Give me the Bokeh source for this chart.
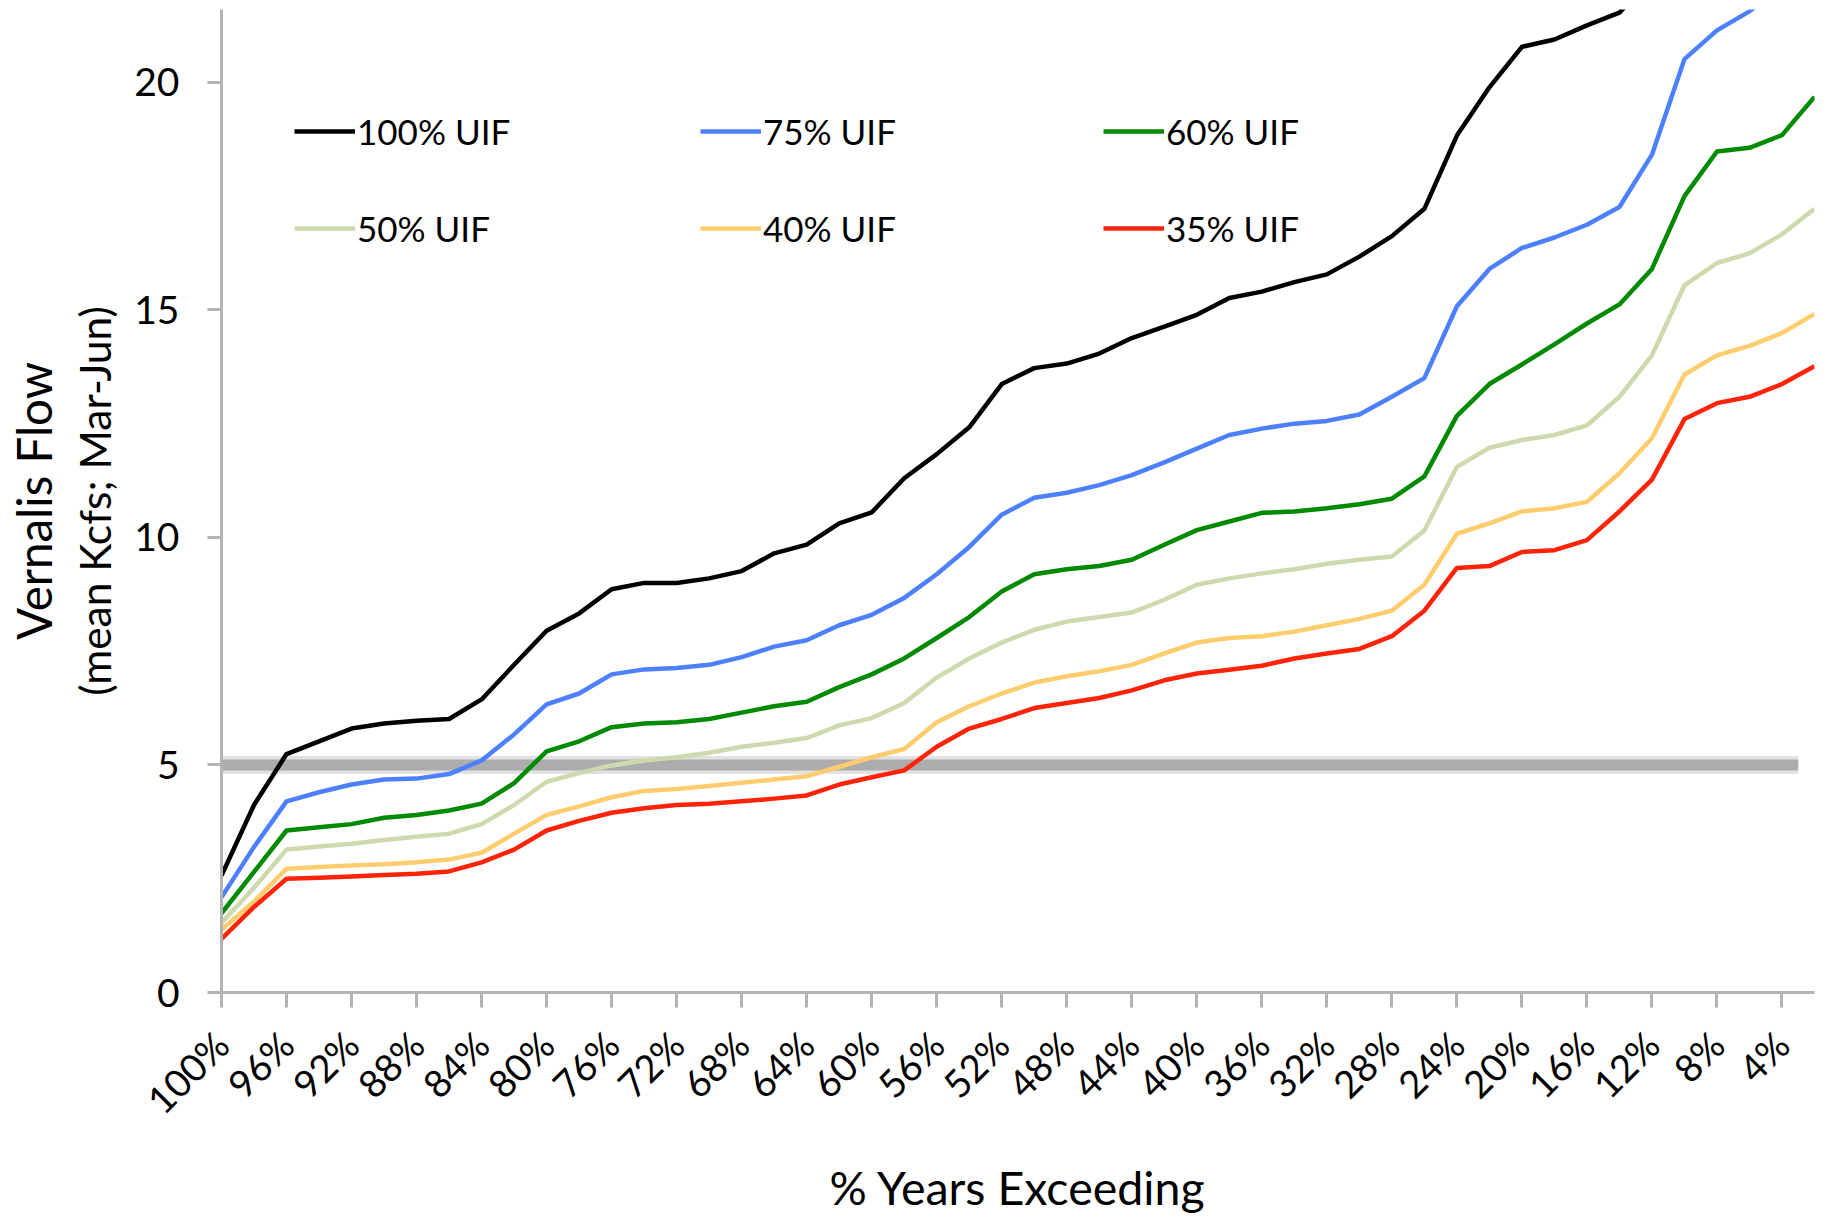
from math import pi

from bokeh.embed import file_html
from bokeh.models import (FixedTicker, Legend, LegendItem, LinearAxis,
                          PrintfTickFormatter, Range1d)
from bokeh.plotting import figure
from bokeh.resources import INLINE

# Exceedance probability (% of years), one point per 2 %
exceed_pct = [100, 98, 96, 94, 92, 90, 88, 86, 84, 82,
              80, 78, 76, 74, 72, 70, 68, 66, 64, 62,
              60, 58, 56, 54, 52, 50, 48, 46, 44, 42,
              40, 38, 36, 34, 32, 30, 28, 26, 24, 22,
              20, 18, 16, 14, 12, 10, 8, 6, 4, 2]

# Mean Mar-Jun Vernalis flow (kcfs) for each unimpaired-flow share
uif_100 = [2.57, 4.12, 5.24, 5.52, 5.80, 5.91, 5.97, 6.01, 6.44, 7.20,
           7.95, 8.33, 8.86, 9.00, 9.00, 9.10, 9.26, 9.65, 9.84, 10.31,
           10.55, 11.30, 11.83, 12.42, 13.37, 13.72, 13.82, 14.04, 14.38, 14.63,
           14.89, 15.26, 15.40, 15.61, 15.78, 16.17, 16.62, 17.22, 18.83, 19.89,
           20.78, 20.94, 21.25, 21.53, 22.30, 24.00, 25.20, 25.60, 26.00, 27.00]
uif_75 = [2.09, 3.20, 4.20, 4.40, 4.57, 4.68, 4.70, 4.80, 5.10, 5.67,
          6.33, 6.57, 6.99, 7.10, 7.13, 7.20, 7.37, 7.60, 7.74, 8.07,
          8.30, 8.67, 9.19, 9.79, 10.50, 10.87, 10.98, 11.15, 11.37, 11.65,
          11.95, 12.25, 12.39, 12.50, 12.56, 12.70, 13.09, 13.50, 15.08, 15.90,
          16.36, 16.59, 16.87, 17.26, 18.41, 20.51, 21.14, 21.56, 22.10, 22.80]
uif_60 = [1.74, 2.65, 3.56, 3.63, 3.70, 3.84, 3.90, 4.00, 4.15, 4.60,
          5.30, 5.52, 5.83, 5.91, 5.94, 6.01, 6.15, 6.29, 6.39, 6.71,
          6.99, 7.34, 7.79, 8.25, 8.81, 9.19, 9.30, 9.37, 9.51, 9.84,
          10.16, 10.35, 10.54, 10.57, 10.64, 10.73, 10.85, 11.34, 12.67, 13.37,
          13.80, 14.24, 14.70, 15.12, 15.90, 17.50, 18.48, 18.56, 18.84, 19.68]
uif_50 = [1.53, 2.30, 3.14, 3.21, 3.27, 3.35, 3.42, 3.49, 3.70, 4.12,
          4.63, 4.82, 4.99, 5.10, 5.17, 5.27, 5.40, 5.49, 5.59, 5.87,
          6.03, 6.36, 6.92, 7.34, 7.69, 7.97, 8.15, 8.25, 8.35, 8.63,
          8.96, 9.10, 9.21, 9.30, 9.42, 9.51, 9.58, 10.15, 11.55, 11.97,
          12.14, 12.25, 12.46, 13.09, 14.00, 15.54, 16.03, 16.24, 16.66, 17.22]
uif_40 = [1.38, 2.00, 2.72, 2.76, 2.79, 2.82, 2.86, 2.92, 3.07, 3.49,
          3.90, 4.09, 4.29, 4.43, 4.47, 4.54, 4.61, 4.68, 4.75, 4.96,
          5.17, 5.35, 5.94, 6.29, 6.57, 6.81, 6.95, 7.06, 7.20, 7.45,
          7.69, 7.79, 7.83, 7.93, 8.07, 8.21, 8.39, 8.96, 10.08, 10.31,
          10.57, 10.64, 10.78, 11.41, 12.18, 13.58, 14.00, 14.21, 14.49, 14.91]
uif_35 = [1.18, 1.88, 2.50, 2.52, 2.55, 2.58, 2.61, 2.66, 2.86, 3.14,
          3.56, 3.77, 3.95, 4.05, 4.12, 4.15, 4.20, 4.26, 4.33, 4.57,
          4.73, 4.88, 5.40, 5.80, 6.01, 6.25, 6.36, 6.47, 6.64, 6.86,
          7.01, 7.09, 7.18, 7.34, 7.45, 7.55, 7.83, 8.39, 9.33, 9.37,
          9.68, 9.72, 9.94, 10.57, 11.27, 12.60, 12.95, 13.09, 13.37, 13.76]

series_labels = ["100% UIF", "75% UIF", "60% UIF", "50% UIF", "40% UIF", "35% UIF"]
series_values = [uif_100, uif_75, uif_60, uif_50, uif_40, uif_35]
series_colors = ["#000000", "#4d80ff", "#008a00", "#cddaae", "#ffcc6e", "#ff2308"]

# 5 kcfs reference flow
threshold_x = [100, 3.0]
threshold_y = [5, 5]

x_ticks = [100, 96, 92, 88, 84, 80, 76, 72, 68, 64, 60, 56, 52,
           48, 44, 40, 36, 32, 28, 24, 20, 16, 12, 8, 4]
y_ticks = [0, 5, 10, 15, 20]

FONT = "Lato"
AXIS_GRAY = "#b3b3b3"

p = figure(width=1825, height=1219,
           x_range=Range1d(100, 2), y_range=Range1d(0, 21.6),
           output_backend="svg", toolbar_location=None,
           min_border_left=221, min_border_right=11,
           min_border_top=9, min_border_bottom=227)
p.outline_line_color = None
p.xgrid.visible = False
p.ygrid.visible = False
p.background_fill_color = "white"
p.border_fill_color = "white"

# reference line with a soft shadow, drawn beneath the curves
p.line(threshold_x, threshold_y, line_color="#e2e2e2", line_width=18)
p.line(threshold_x, threshold_y, line_color="#acacac", line_width=11)

renderers = []
for vals, col in zip(series_values, series_colors):
    r = p.line(exceed_pct, vals, line_color=col, line_width=4.5,
               line_join="round")
    renderers.append(r)

for ax in (p.xaxis[0], p.yaxis[0]):
    ax.axis_line_color = AXIS_GRAY
    ax.axis_line_width = 3
    ax.major_tick_line_color = AXIS_GRAY
    ax.major_tick_line_width = 3
    ax.major_tick_in = 0
    ax.minor_tick_line_color = None
    ax.major_label_text_font = FONT
    ax.major_label_text_color = "#000000"
    ax.axis_label_text_font = FONT
    ax.axis_label_text_font_style = "normal"
    ax.axis_label_text_color = "#000000"

p.yaxis.ticker = FixedTicker(ticks=y_ticks)
p.yaxis.major_tick_out = 14
p.yaxis.major_label_standoff = 28
p.yaxis.major_label_text_font_size = "39px"
p.yaxis.axis_label = "(mean Kcfs; Mar-Jun)"
p.yaxis.axis_label_text_font_size = "42.5px"
p.yaxis.axis_label_standoff = 11

# outer line of the y title carried by a bare axis
title_axis = LinearAxis(ticker=FixedTicker(ticks=[]), axis_line_color=None,
                        major_tick_line_color=None, minor_tick_line_color=None,
                        axis_label="Vernalis Flow", axis_label_standoff=5,
                        axis_label_text_font=FONT,
                        axis_label_text_font_style="normal",
                        axis_label_text_font_size="47.5px",
                        axis_label_text_color="#000000")
p.add_layout(title_axis, "left")

p.xaxis.ticker = FixedTicker(ticks=x_ticks)
p.xaxis.formatter = PrintfTickFormatter(format="%d%%")
p.xaxis.major_tick_out = 15
p.xaxis.major_label_orientation = pi / 4
p.xaxis.major_label_standoff = 30
p.xaxis.major_label_text_font_size = "38px"
p.xaxis.axis_label = "% Years Exceeding"
p.xaxis.axis_label_text_font_size = "46.5px"
p.xaxis.axis_label_standoff = 18

# legend: three columns of two entries each
legend_cols = [(0, 3, 73), (1, 4, 479), (2, 5, 882)]
for i, j, xpos in legend_cols:
    leg = Legend(items=[LegendItem(label=series_labels[i], renderers=[renderers[i]]),
                        LegendItem(label=series_labels[j], renderers=[renderers[j]])],
                 location=(xpos, 743), orientation="vertical",
                 glyph_width=61, glyph_height=40, label_height=40,
                 label_standoff=2, spacing=55, padding=0, margin=0,
                 border_line_color=None, background_fill_alpha=0,
                 label_text_font=FONT, label_text_font_size="35px",
                 label_text_color="#000000")
    p.add_layout(leg)

open("out.html", "w").write(file_html(p, INLINE))
